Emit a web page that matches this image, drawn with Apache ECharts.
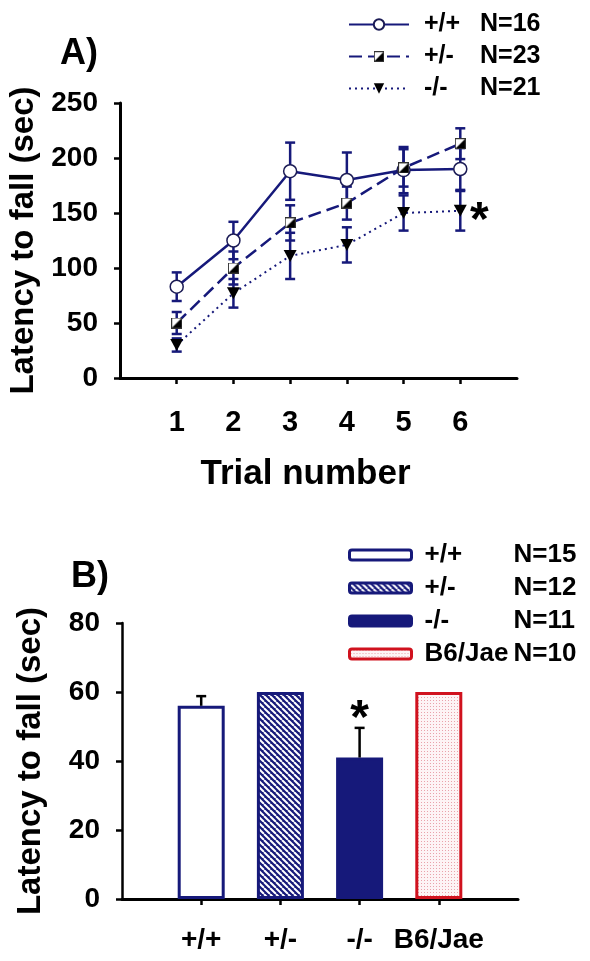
<!DOCTYPE html>
<html><head><meta charset="utf-8">
<script src="https://cdn.jsdelivr.net/npm/echarts@6/dist/echarts.min.js"></script>
<style>html,body{margin:0;padding:0;background:#fff}#c{width:590px;height:961px}</style>
</head><body><div id="c"></div><script>
// ---- Panel A data ----
const trials = [1, 2, 3, 4, 5, 6];
const lineGroups = ['+/+', '+/-', '-/-'];
const lineN = [16, 23, 21];
const wtMean = [83, 125, 188, 180, 189, 190];
const wtSem = [13, 17, 26, 25, 21, 19];
const hetMean = [50, 100, 141, 159, 191, 213];
const hetSem = [10, 15, 16, 15, 17, 14];
const koMean = [30, 77, 111, 121, 150, 152];
const koSem = [6, 13, 21, 16, 16, 18];
const yTicksA = [0, 50, 100, 150, 200, 250];
// ---- Panel B data ----
const barGroups = ['+/+', '+/-', '-/-', 'B6/Jae'];
const barN = [15, 12, 11, 10];
const barMean = [56, 60, 41, 60];
const barSem = [2.8, 0, 8.6, 0];
const yTicksB = [0, 20, 40, 60, 80];

const FONT = '"Liberation Sans", Arial, Helvetica, sans-serif';
const NAVY = '#16197a';
const RED = '#d0121e';

function makeHalfSquare() {
  const c = document.createElement('canvas'); c.width = 22; c.height = 22;
  const g = c.getContext('2d');
  g.fillStyle = '#fff'; g.fillRect(0, 0, 22, 22);
  g.fillStyle = '#000'; g.beginPath(); g.moveTo(22, 0); g.lineTo(22, 22); g.lineTo(0, 22); g.closePath(); g.fill();
  g.strokeStyle = '#333'; g.lineWidth = 2; g.strokeRect(1, 1, 20, 20);
  return 'image://' + c.toDataURL();
}
function makeHatch() {
  const n = 6; const c = document.createElement('canvas'); c.width = n; c.height = n;
  const g = c.getContext('2d');
  g.fillStyle = NAVY; g.fillRect(0, 0, n, n);
  g.strokeStyle = '#fff'; g.lineWidth = 2;
  [-n, 0, n].forEach(k => { g.beginPath(); g.moveTo(k, 0); g.lineTo(k + n, n); g.stroke(); });
  return c;
}
function makeDots() {
  const c = document.createElement('canvas'); c.width = 3; c.height = 3;
  const g = c.getContext('2d');
  g.fillStyle = '#fdf4f5'; g.fillRect(0, 0, 3, 3);
  g.fillStyle = '#e9a3ab'; g.fillRect(1, 1, 1, 1);
  return c;
}

const chart = echarts.init(document.getElementById('c'), null, { renderer: 'canvas' });

const axisCommon = {
  axisLine: { show: true, lineStyle: { color: '#000', width: 3 } },
  axisTick: { show: true, inside: false, length: 6, lineStyle: { color: '#000', width: 2.5 } },
  splitLine: { show: false },
  axisLabel: { color: '#000', fontSize: 28, fontWeight: 'bold', fontFamily: FONT }
};
const nameStyle = { color: '#000', fontSize: 33, fontWeight: 'bold', fontFamily: FONT };

function errRender(color, both) {
  return function (params, api) {
    const x = api.value(0), m = api.value(1), s = api.value(2);
    const top = api.coord([x, m + s]);
    const bot = api.coord([x, both ? m - s : m]);
    const hw = 5;
    const st = { stroke: color, lineWidth: 2.5 };
    const ch = [
      { type: 'line', shape: { x1: top[0], y1: top[1], x2: bot[0], y2: bot[1] }, style: st },
      { type: 'line', shape: { x1: top[0] - hw, y1: top[1], x2: top[0] + hw, y2: top[1] }, style: st }
    ];
    if (both) ch.push({ type: 'line', shape: { x1: bot[0] - hw, y1: bot[1], x2: bot[0] + hw, y2: bot[1] }, style: st });
    return { type: 'group', children: ch };
  };
}
function starRender(dx, dy) {
  return function (params, api) {
    const p = api.coord([api.value(0), api.value(1)]);
    return { type: 'text', x: p[0] + dx, y: p[1] + dy,
      style: { text: '*', fill: '#000', font: 'bold 48px ' + FONT, align: 'center', verticalAlign: 'middle' } };
  };
}

const lineMeans = [wtMean, hetMean, koMean];
const lineSems = [wtSem, hetSem, koSem];
const lineStyles = [
  { symbol: 'circle', symbolSize: 13, item: { color: '#fff', borderColor: '#1b1b55', borderWidth: 1.5 }, type: 'solid', width: 2.5 },
  { symbol: makeHalfSquare(), symbolSize: 11, item: { color: '#000' }, type: [13, 6], width: 2.5 },
  { symbol: 'path://M0,0 L10,0 L5,9 Z', symbolSize: [13, 12], item: { color: '#000' }, type: [2, 4], width: 2 }
];

const series = [];
lineGroups.forEach((g, k) => {
  series.push({
    type: 'custom', name: 'errA' + k, xAxisIndex: 0, yAxisIndex: 0, z: 1,
    renderItem: errRender(NAVY, true),
    data: trials.map((t, i) => [t, lineMeans[k][i], lineSems[k][i]])
  });
});
lineGroups.forEach((g, k) => {
  const s = lineStyles[k];
  series.push({
    type: 'line', name: g, xAxisIndex: 0, yAxisIndex: 0, z: 3,
    symbol: s.symbol, symbolSize: s.symbolSize, showAllSymbol: true,
    itemStyle: s.item,
    lineStyle: { color: NAVY, width: s.width, type: s.type },
    data: trials.map((t, i) => [t, lineMeans[k][i]])
  });
});
series.push({
  type: 'custom', name: 'starA', xAxisIndex: 0, yAxisIndex: 0, z: 5,
  renderItem: starRender(19, 11), data: [[trials[5], koMean[5]]]
});

const hatch = makeHatch();
const dots = makeDots();
const barStyles = [
  { color: '#fff', borderColor: NAVY, borderWidth: 3 },
  { color: { image: hatch, repeat: 'repeat' }, borderColor: NAVY, borderWidth: 3 },
  { color: NAVY, borderColor: NAVY, borderWidth: 3 },
  { color: { image: dots, repeat: 'repeat' }, borderColor: RED, borderWidth: 3 }
];
barGroups.forEach((g, i) => {
  series.push({
    type: 'bar', name: 'B:' + g, xAxisIndex: 1, yAxisIndex: 1, z: 2,
    barWidth: 47, barGap: '-100%',
    itemStyle: barStyles[i],
    data: [[i + 1, barMean[i]]]
  });
});
series.push({
  type: 'custom', name: 'errB', xAxisIndex: 1, yAxisIndex: 1, z: 4,
  renderItem: errRender('#000', false),
  data: barGroups.map((g, i) => [i + 1, barMean[i], barSem[i]]).filter(d => d[2] > 0)
});
series.push({
  type: 'custom', name: 'starB', xAxisIndex: 1, yAxisIndex: 1, z: 5,
  renderItem: starRender(0, -8), data: [[3, barMean[2] + barSem[2]]]
});

const option = {
  animation: false,
  backgroundColor: '#fff',
  textStyle: { fontFamily: FONT },
  title: [
    { text: 'A)', left: 55, top: 31, textStyle: { fontSize: 36, fontWeight: 'bold', fontFamily: FONT, color: '#000' } },
    { text: 'B)', left: 66, top: 554, textStyle: { fontSize: 36, fontWeight: 'bold', fontFamily: FONT, color: '#000' } }
  ],
  legend: [
    {
      orient: 'vertical', left: 348, top: 12, padding: 0, itemWidth: 60, itemHeight: 13, itemGap: 7,
      data: lineGroups,
      formatter: name => '{a|' + name + '}{b|N=' + lineN[lineGroups.indexOf(name)] + '}',
      textStyle: { color: '#000', fontSize: 25, fontWeight: 'bold', fontFamily: FONT, lineHeight: 24,
        rich: { a: { width: 56, padding: [0, 0, 0, 10], fontSize: 25, fontWeight: 'bold', fontFamily: FONT },
                b: { fontSize: 25, fontWeight: 'bold', fontFamily: FONT } } }
    },
    {
      orient: 'vertical', left: 348, top: 542, padding: 0, itemWidth: 62, itemHeight: 10, itemGap: 7, icon: 'roundRect',
      itemStyle: { borderWidth: 3 },
      data: barGroups.map(g => 'B:' + g),
      formatter: name => { const g = name.slice(2); return '{a|' + g + '}{b|N=' + barN[barGroups.indexOf(g)] + '}'; },
      textStyle: { color: '#000', fontSize: 26, fontWeight: 'bold', fontFamily: FONT, lineHeight: 25,
        rich: { a: { width: 89, padding: [0, 0, 0, 8], fontSize: 26, fontWeight: 'bold', fontFamily: FONT },
                b: { fontSize: 26, fontWeight: 'bold', fontFamily: FONT } } }
    }
  ],
  grid: [
    { left: 120, top: 103, width: 397, height: 275, outerBoundsMode: 'none' },
    { left: 122, top: 623, width: 396, height: 276, outerBoundsMode: 'none' }
  ],
  xAxis: [
    Object.assign({}, axisCommon, {
      type: 'value', gridIndex: 0, min: 0, max: 7, interval: 1,
      name: 'Trial number', nameLocation: 'middle', nameGap: 79,
      nameTextStyle: Object.assign({}, nameStyle, { fontSize: 35, padding: [0, 26, 0, 0] }),
      axisTick: Object.assign({}, axisCommon.axisTick, { customValues: trials }),
      axisLabel: Object.assign({}, axisCommon.axisLabel, { customValues: trials, margin: 30, fontSize: 29 })
    }),
    Object.assign({}, axisCommon, {
      type: 'value', gridIndex: 1, min: 0, max: 5, interval: 1,
      axisTick: Object.assign({}, axisCommon.axisTick, { customValues: barGroups.map((g, i) => i + 1) }),
      axisLabel: Object.assign({}, axisCommon.axisLabel, { customValues: barGroups.map((g, i) => i + 1), margin: 27,
        formatter: v => barGroups[Math.round(v) - 1] || '' })
    })
  ],
  yAxis: [
    Object.assign({}, axisCommon, {
      type: 'value', gridIndex: 0, min: yTicksA[0], max: yTicksA[yTicksA.length - 1], interval: 50,
      name: 'Latency to fall (sec)', nameLocation: 'middle', nameGap: 75, nameTextStyle: nameStyle,
      axisLabel: Object.assign({}, axisCommon.axisLabel, { margin: 22 })
    }),
    Object.assign({}, axisCommon, {
      type: 'value', gridIndex: 1, min: yTicksB[0], max: yTicksB[yTicksB.length - 1], interval: 20,
      name: 'Latency to fall (sec)', nameLocation: 'middle', nameGap: 75, nameTextStyle: nameStyle,
      axisLine: { show: true, lineStyle: { color: '#000', width: 2.5 } },
      axisLabel: Object.assign({}, axisCommon.axisLabel, { margin: 22 })
    })
  ],
  series: series
};
chart.setOption(option);
</script></body></html>
